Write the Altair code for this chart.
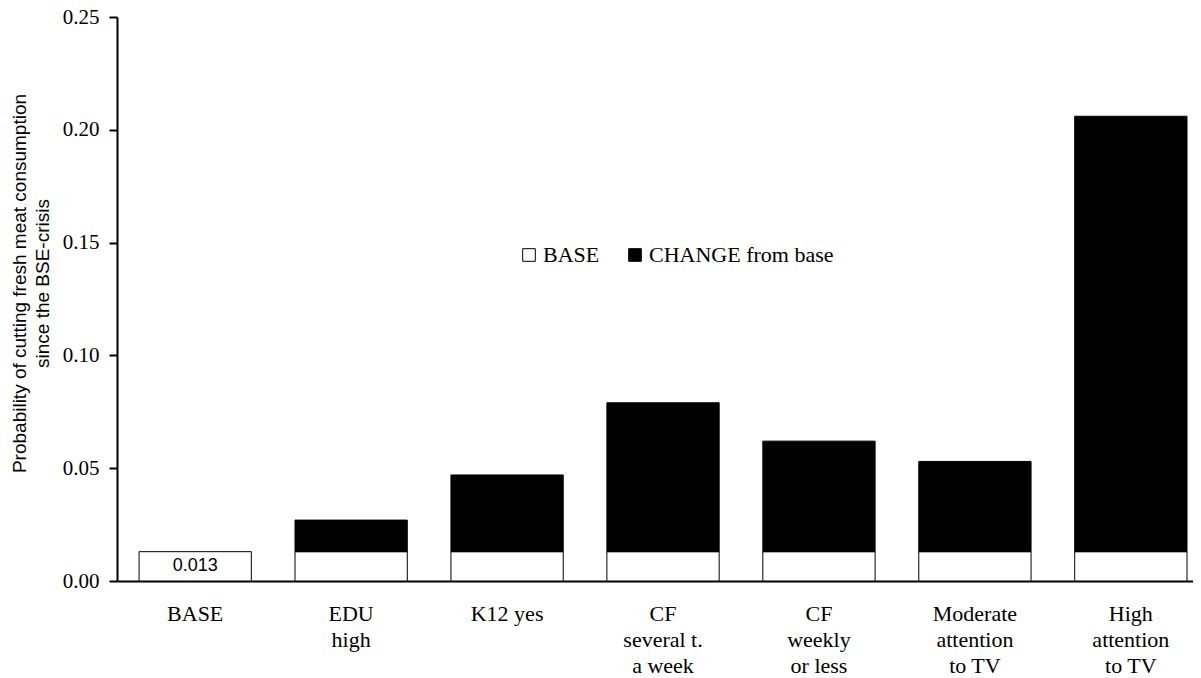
import altair as alt
import pandas as pd

categories = ["BASE", "EDU|high", "K12 yes", "CF|several t.|a week",
              "CF|weekly|or less", "Moderate|attention|to TV", "High|attention|to TV"]
base_value = 0.013
totals = [0.013, 0.027, 0.047, 0.079, 0.062, 0.053, 0.206]
segments = ["BASE", "CHANGE from base"]

rows = []
for cat, tot in zip(categories, totals):
    rows.append({"category": cat, "segment": segments[0], "start": 0.0, "end": base_value})
    if tot > base_value:
        rows.append({"category": cat, "segment": segments[1], "start": base_value, "end": tot})
df = pd.DataFrame(rows)

serif = "Liberation Serif"
sans = "Liberation Sans"

x_enc = alt.X(
    "category:N", sort=categories,
    scale=alt.Scale(paddingInner=0.28, paddingOuter=0.09, align=0.786),
    axis=alt.Axis(title=None, labelAngle=0, labelExpr="split(datum.label, '|')",
                  labelFont=serif, labelFontSize=22, labelColor="black",
                  labelLineHeight=26, labelBaseline="top", labelPadding=22,
                  labelLimit=0, ticks=False, domainColor="black", domainWidth=2),
)

bars = alt.Chart(df).mark_bar(stroke="black", strokeWidth=1).encode(
    x=x_enc,
    y=alt.Y("start:Q", scale=alt.Scale(domain=[0, 0.25], nice=False),
            axis=alt.Axis(
                title=["Probability of cutting fresh meat consumption", "since the BSE-crisis"],
                titleFont=sans, titleFontSize=19, titleFontWeight="normal",
                titleColor="black", titleLineHeight=23, titleAngle=-90,
                titleX=-98, titleY=266, titleAlign="center", titleBaseline="middle",
                values=[0, 0.05, 0.10, 0.15, 0.20, 0.25], format=".2f",
                labelFont=serif, labelFontSize=21, labelColor="black", labelPadding=10,
                tickSize=8, tickWidth=2, tickColor="black",
                domainColor="black", domainWidth=2, grid=False)),
    y2="end:Q",
    color=alt.Color("segment:N",
                    scale=alt.Scale(domain=segments, range=["white", "black"]),
                    legend=alt.Legend(title=None, orient="none", legendX=401, legendY=227,
                                      direction="horizontal", symbolType="square",
                                      symbolSize=160, symbolStrokeColor="black",
                                      symbolStrokeWidth=1, labelFont=serif,
                                      labelFontSize=22, labelColor="black", labelLimit=0,
                                      labelOffset=3, columnPadding=24, padding=0)),
    order=alt.Order("start:Q"),
)

label = alt.Chart(df).transform_filter(
    (alt.datum.category == "BASE") & (alt.datum.segment == "BASE")
).transform_calculate(
    mid="(datum.start + datum.end) / 2"
).mark_text(font=sans, fontSize=18, color="black", baseline="middle", align="center").encode(
    x=alt.X("category:N", sort=categories),
    y=alt.Y("mid:Q"),
    text=alt.Text("end:Q", format=".3f"),
)

chart = alt.layer(bars, label).properties(
    width=1076, height=564,
    autosize=alt.AutoSizeParams(type="none"),
    padding={"left": 109, "top": 9, "right": 0, "bottom": 97},
    background="white",
).configure_view(stroke=None)

chart.save("out.html", embed_options={"renderer": "svg", "actions": False})
